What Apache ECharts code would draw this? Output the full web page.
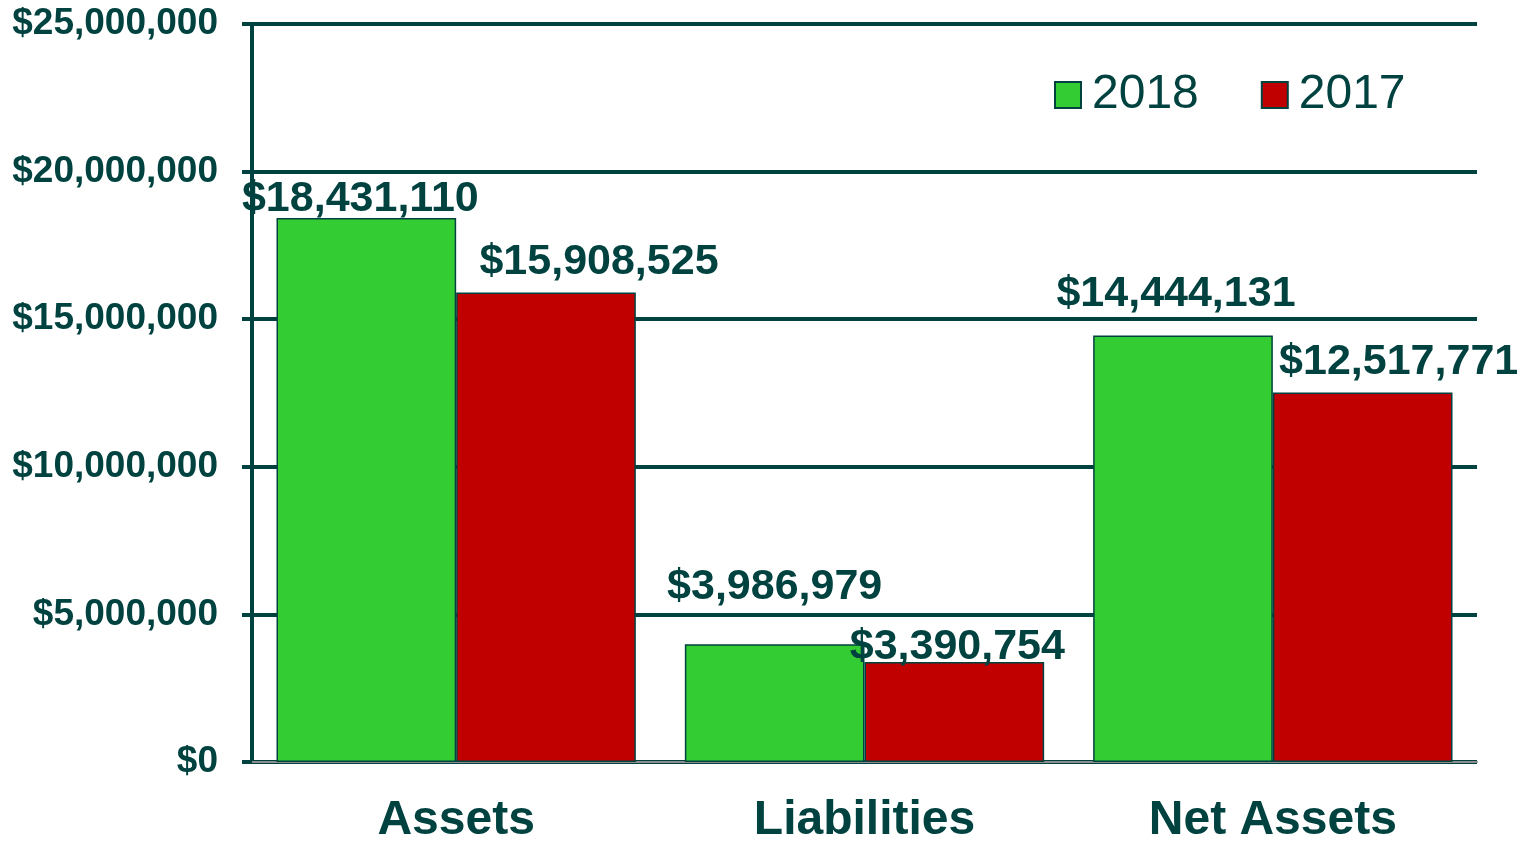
<!DOCTYPE html>
<html>
<head>
<meta charset="utf-8">
<script src="https://cdn.jsdelivr.net/npm/echarts@6/dist/echarts.min.js"></script>
<style>
    html, body { margin: 0; padding: 0; background: #fff; }
    #chart { width: 1520px; height: 841px; }
</style>
</head>
<body>
<div id="chart"></div>
<script>
// 数据
var categories = ['Assets', 'Liabilities', 'Net Assets'];
var values2018 = [18431110, 3986979, 14444131];
var values2017 = [15908525, 3390754, 12517771];
var yTicks = [0, 5000000, 10000000, 15000000, 20000000, 25000000];

// 标签偏移 (跟原图对齐)
var offsets2018 = [[-6, 8], [0, -31], [-7, -15]];
var offsets2017 = [[53, -4], [3, 12], [36, -4]];

var ink = '#00423f';
var font = '"Liberation Sans", Arial, sans-serif';

function money(v) {
    return '$' + Number(v).toLocaleString('en-US');
}

function items(vals, offs) {
    return vals.map(function (v, i) {
        return { value: v, label: { offset: offs[i] } };
    });
}

;(function(){
    var chart = echarts.init(document.getElementById('chart'));
    var option = {
        animation: false,
        color: ['#33cc33', '#c00000'],
        grid: {
            left: 252,
            right: 43,
            top: 24,
            bottom: 79,
            containLabel: false,
            outerBoundsMode: 'none'
        },
        legend: {
            left: 1054,
            top: 71,
            padding: 0,
            itemWidth: 26,
            itemHeight: 26,
            itemGap: 62,
            icon: 'rect',
            itemStyle: { borderColor: ink, borderWidth: 2 },
            textStyle: {
                fontFamily: font,
                fontSize: 48,
                color: ink,
                padding: [0, 0, 0, 6]
            },
            data: ['2018', '2017']
        },
        xAxis: {
            type: 'category',
            data: categories,
            axisLine: { lineStyle: { color: '#8c8c8c', width: 2 } },
            axisTick: { length: 14, lineStyle: { color: '#8c8c8c', width: 2 } },
            axisLabel: {
                margin: 35,
                fontFamily: font,
                fontSize: 48,
                fontWeight: 'bold',
                color: ink
            }
        },
        yAxis: {
            type: 'value',
            min: yTicks[0],
            max: yTicks[yTicks.length - 1],
            interval: yTicks[1] - yTicks[0],
            axisLine: { show: true, lineStyle: { color: ink, width: 4 } },
            axisTick: { show: true, length: 10, lineStyle: { color: ink, width: 4 } },
            splitLine: { lineStyle: { color: ink, width: 4 } },
            axisLabel: {
                margin: 34,
                fontFamily: font,
                fontSize: 37,
                fontWeight: 'bold',
                color: ink,
                formatter: money
            }
        },
        series: [{
            name: '2018',
            type: 'bar',
            data: items(values2018, offsets2018),
            barGap: '0%',
            barCategoryGap: '12%',
            itemStyle: { borderColor: ink, borderWidth: 1.5 },
            label: {
                show: true,
                position: 'top',
                fontFamily: font,
                fontSize: 43,
                fontWeight: 'bold',
                color: ink,
                formatter: function (p) { return money(p.value); }
            }
        }, {
            name: '2017',
            type: 'bar',
            data: items(values2017, offsets2017),
            barGap: '0%',
            barCategoryGap: '12%',
            itemStyle: { borderColor: ink, borderWidth: 1.5 },
            label: {
                show: true,
                position: 'top',
                fontFamily: font,
                fontSize: 43,
                fontWeight: 'bold',
                color: ink,
                formatter: function (p) { return money(p.value); }
            }
        }]
    };

    chart.setOption(option);
})()
</script>
</body>
</html>
